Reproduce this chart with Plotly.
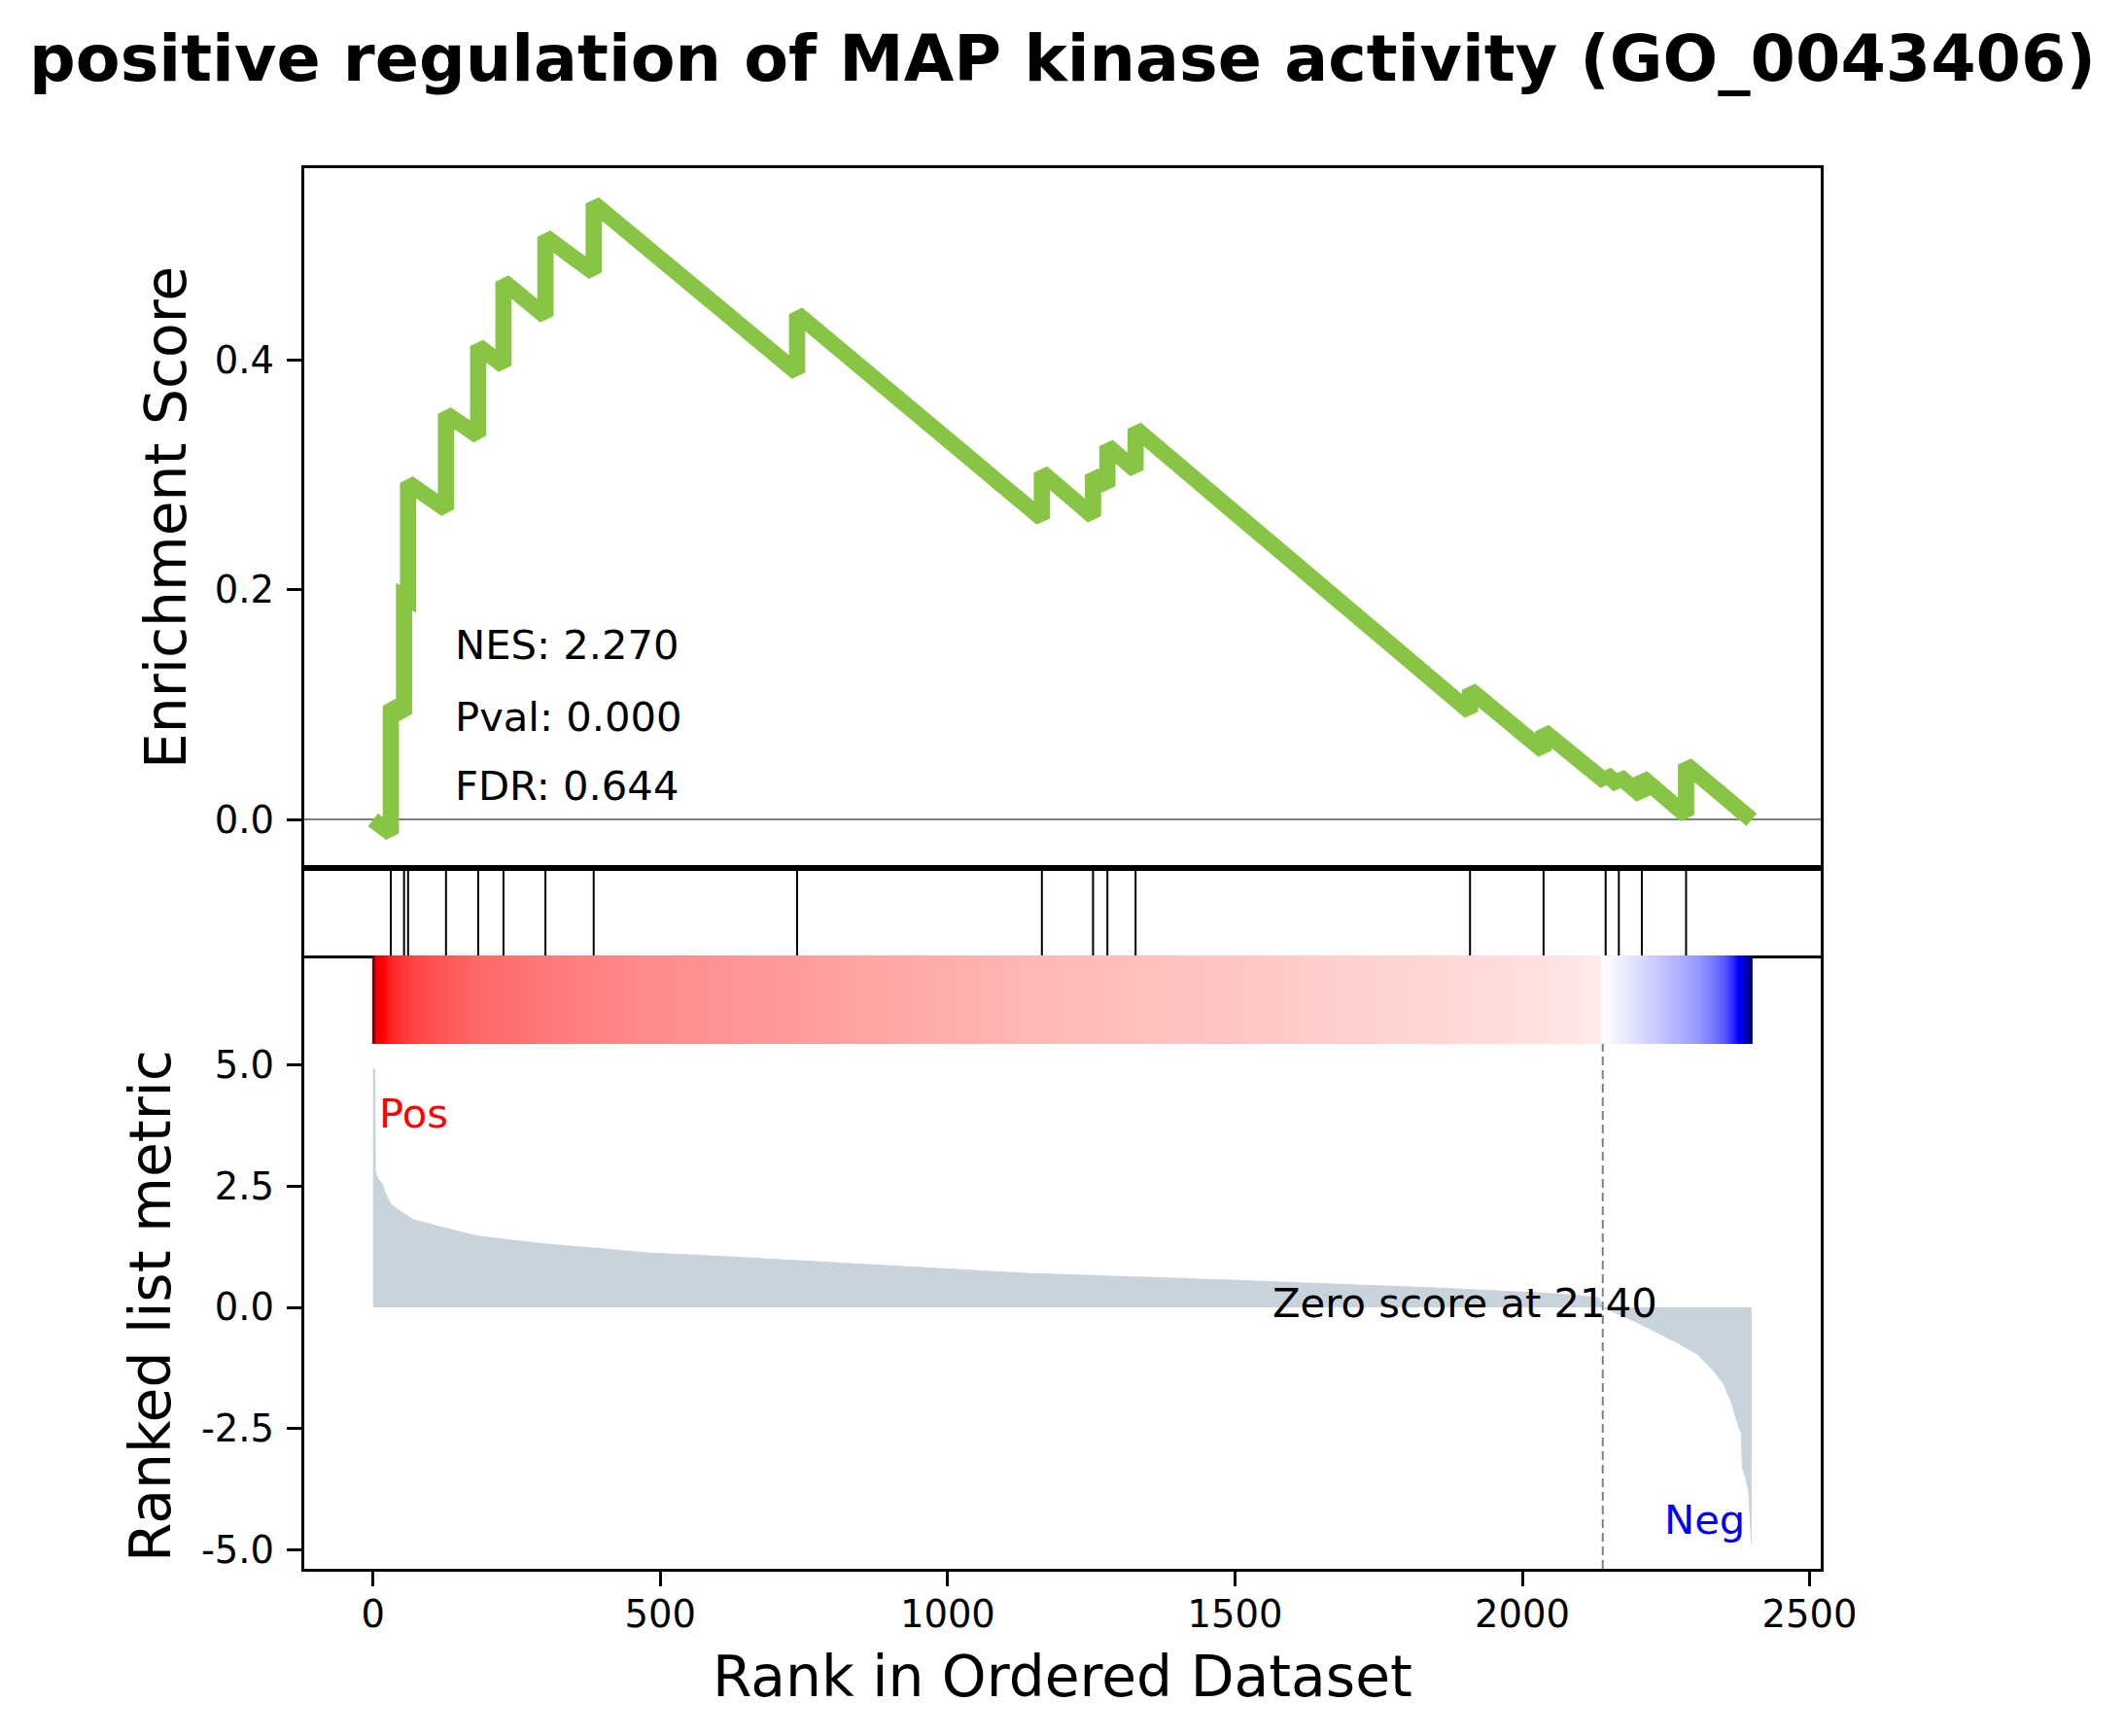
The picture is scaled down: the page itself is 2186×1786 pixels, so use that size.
import plotly.graph_objects as go

# ---------------- data ----------------
title_text = "positive regulation of MAP kinase activity (GO_0043406)"
nes, pval, fdr = 2.270, 0.000, 0.644
zero_score_ind = 2140
n_genes_last = 2399

# gene-set hit ranks
hits = [31, 54, 61, 127, 183, 227, 300, 384, 738, 1164, 1253, 1278, 1327,
        1909, 2037, 2145, 2168, 2208, 2285]
# running enrichment score just before each hit (trough) and after it (peak)
es_trough = [-0.012, 0.092, 0.192, 0.270, 0.334, 0.395, 0.438, 0.476, 0.389,
             0.262, 0.264, 0.290, 0.304, 0.094, 0.060, 0.033, 0.030, 0.021, 0.004]
es_peak = [0.099, 0.194, 0.293, 0.353, 0.412, 0.468, 0.507, 0.536, 0.440,
           0.302, 0.300, 0.325, 0.340, 0.113, 0.077, 0.040, 0.038, 0.037, 0.048]
es_start = 0.0
es_end = 0.0

# ranked list metric, sampled along the ranking
metric_rank = [0, 3, 4, 9, 17, 21, 31, 42, 70, 116, 144, 183, 228, 299, 398,
               482, 595, 708, 821, 1141, 1495, 1850, 2027, 2100, 2133, 2139,
               2140, 2198, 2226, 2271, 2305, 2333, 2350, 2364, 2376, 2381,
               2383, 2390, 2394, 2396, 2399]
metric_vals = [4.95, 4.90, 2.80, 2.65, 2.53, 2.37, 2.13, 2.03, 1.81, 1.66, 1.58,
               1.47, 1.41, 1.31, 1.21, 1.12, 1.06, 0.98, 0.91, 0.70, 0.56, 0.40,
               0.30, 0.24, 0.20, 0.03, 0.0, -0.30, -0.47, -0.74, -0.97, -1.31,
               -1.57, -1.97, -2.44, -2.60, -3.31, -3.58, -3.80, -4.30, -4.89]

x_ticks = [0, 500, 1000, 1500, 2000, 2500]
es_ticks = [0.0, 0.2, 0.4]
metric_ticks = [5.0, 2.5, 0.0, -2.5, -5.0]

# ---------------- build figure ----------------
W, H = 2186, 1786
FONT = "DejaVu Sans"
X_RANGE = [-120, 2519]

es_x = [0]
es_y = [es_start]
for h, t, p in zip(hits, es_trough, es_peak):
    es_x += [h, h]
    es_y += [t, p]
es_x.append(n_genes_last)
es_y.append(es_end)

hit_x, hit_y = [], []
for h in hits:
    hit_x += [h, h, None]
    hit_y += [0, 1, None]

zmin, zmax = min(metric_vals), max(metric_vals)
t0 = -zmin / (zmax - zmin)
seismic = [[0.0, "rgb(0,0,77)"], [t0 / 2, "rgb(0,0,255)"], [t0, "rgb(255,255,255)"],
           [t0 + (1 - t0) / 2, "rgb(255,0,0)"], [1.0, "rgb(128,0,0)"]]

fig = go.Figure()
fig.add_trace(go.Scatter(x=es_x, y=es_y, mode="lines", xaxis="x", yaxis="y",
                         line=dict(color="#88C544", width=16.7), hoverinfo="skip"))
fig.add_trace(go.Scatter(x=hit_x, y=hit_y, mode="lines", xaxis="x2", yaxis="y2",
                         line=dict(color="black", width=2), hoverinfo="skip"))
fig.add_trace(go.Heatmap(x=metric_rank, y=[0, 1], z=[metric_vals, metric_vals],
                         xaxis="x3", yaxis="y3", colorscale=seismic, zmin=zmin,
                         zmax=zmax, zsmooth="best", showscale=False, hoverinfo="skip"))
fig.add_trace(go.Scatter(x=metric_rank, y=metric_vals, mode="lines", fill="tozeroy",
                         fillcolor="#C9D3DB", line=dict(color="#C9D3DB", width=1),
                         xaxis="x4", yaxis="y4", hoverinfo="skip"))


def px_x(v):
    return v / W


def px_y(v):
    return 1 - v / H


xdom = [px_x(312.8), px_x(1872.8)]
tickfont = dict(family=FONT, size=38.5, color="black")
axline = dict(showline=True, linecolor="black", linewidth=3, showgrid=False,
              zeroline=False, automargin=False)

fig.update_layout(
    width=W, height=H, autosize=False,
    margin=dict(l=0, r=0, t=0, b=0, pad=0, autoexpand=False),
    paper_bgcolor="white", plot_bgcolor="white", showlegend=False,
    font=dict(family=FONT, color="black"),
    title=dict(text="<b>" + title_text + "</b>", x=0.5, y=px_y(60), xanchor="center",
               yanchor="middle", xref="paper", yref="paper", automargin=False,
               font=dict(family=FONT, size=66.7, color="black")),
    xaxis=dict(domain=xdom, range=X_RANGE, anchor="y", mirror=True, ticks="",
               showticklabels=False, **axline),
    yaxis=dict(domain=[px_y(893), px_y(172.7)], range=[-0.042, 0.567], anchor="x",
               mirror=True, ticks="outside", ticklen=15, tickwidth=3, tickcolor="black",
               tickvals=es_ticks, ticktext=[f"{v:.1f}" for v in es_ticks],
               tickfont=tickfont, ticklabelstandoff=5, automargin=False,
               showline=True, linecolor="black", linewidth=3, showgrid=False,
               zeroline=True, zerolinecolor="grey", zerolinewidth=2),
    xaxis2=dict(domain=xdom, range=X_RANGE, anchor="y2", mirror=True, ticks="",
                showticklabels=False, **axline),
    yaxis2=dict(domain=[px_y(983), px_y(893)], range=[0, 1], anchor="x2", mirror=True,
                ticks="", showticklabels=False, **axline),
    xaxis3=dict(domain=xdom, range=X_RANGE, anchor="y3", showline=False, ticks="",
                showticklabels=False, showgrid=False, zeroline=False, automargin=False),
    yaxis3=dict(domain=[px_y(1074), px_y(983)], range=[-0.5, 1.5], anchor="x3",
                mirror=True, ticks="", showticklabels=False, **axline),
    xaxis4=dict(domain=xdom, range=X_RANGE, anchor="y4", mirror=False, ticks="outside",
                ticklen=15, tickwidth=3, tickcolor="black", tickvals=x_ticks,
                ticktext=[str(v) for v in x_ticks], tickfont=tickfont,
                ticklabelstandoff=-4, **axline),
    yaxis4=dict(domain=[px_y(1614), px_y(1074)], range=[-5.40, 5.44], anchor="x4",
                mirror=True, ticks="outside", ticklen=15, tickwidth=3, tickcolor="black",
                tickvals=metric_ticks, ticktext=[f"{v:.1f}" for v in metric_ticks],
                tickfont=tickfont, ticklabelstandoff=5, **axline),
)

fig.add_shape(type="line", xref="x4", yref="y4 domain", x0=zero_score_ind,
              x1=zero_score_ind, y0=0, y1=1,
              line=dict(color="grey", width=2, dash="9px,5px"))

txt = dict(family=FONT, size=41.7, color="black")
for label, yc in [(f"NES: {nes:.3f}", 663), (f"Pval: {pval:.3f}", 737), (f"FDR: {fdr:.3f}", 808)]:
    fig.add_annotation(text=label, xref="paper", yref="paper", x=px_x(466), y=px_y(yc),
                       xanchor="left", yanchor="middle", showarrow=False, font=txt)

fig.add_annotation(text="Pos", xref="paper", yref="paper", x=px_x(388), y=px_y(1145),
                   xanchor="left", yanchor="middle", showarrow=False,
                   font=dict(family=FONT, size=41.7, color="red"))
fig.add_annotation(text="Neg", xref="paper", yref="paper", x=px_x(1797), y=px_y(1563),
                   xanchor="right", yanchor="middle", showarrow=False,
                   font=dict(family=FONT, size=41.7, color="blue"))
fig.add_annotation(text=f"Zero score at {zero_score_ind}", xref="paper", yref="paper",
                   x=px_x(1507), y=px_y(1340), xanchor="center", yanchor="middle",
                   showarrow=False, font=txt)

lab = dict(family=FONT, size=58.3, color="black")
fig.add_annotation(text="Enrichment Score", xref="paper", yref="paper", x=px_x(171),
                   y=px_y(533), textangle=-90, xanchor="center", yanchor="middle",
                   showarrow=False, font=lab)
fig.add_annotation(text="Ranked list metric", xref="paper", yref="paper", x=px_x(155),
                   y=px_y(1344), textangle=-90, xanchor="center", yanchor="middle",
                   showarrow=False, font=lab)
fig.add_annotation(text="Rank in Ordered Dataset", xref="paper", yref="paper", x=0.5,
                   y=px_y(1725), xanchor="center", yanchor="middle",
                   showarrow=False, font=lab)

fig.write_html(
    "out.html",
    config={"responsive": False, "displayModeBar": False},
    post_script="document.body.style.margin='0';document.body.style.overflow='hidden';",
)
